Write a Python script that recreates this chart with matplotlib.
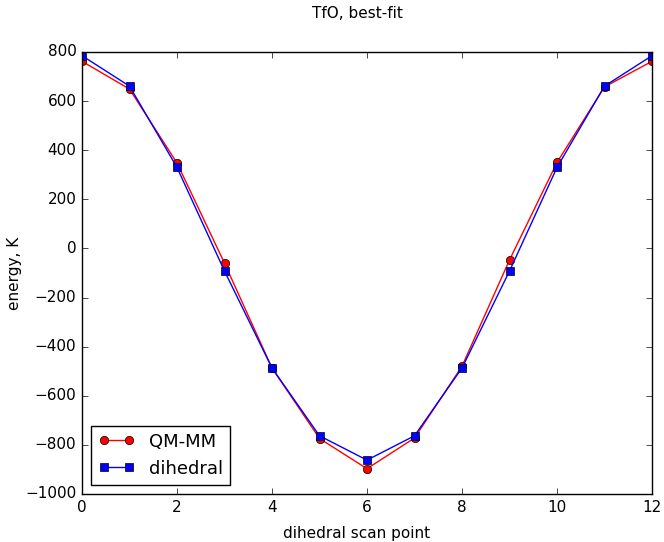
import numpy as np
import matplotlib
matplotlib.use("Agg")
import matplotlib.pyplot as plt

plt.style.use('classic')

scan = list(range(13))
qm_mm = [762, 649, 348, -60, -487, -774, -897, -772, -480, -47, 350, 658, 762]
dihedral = [785, 661, 330, -92, -487, -763, -862, -763, -487, -92, 330, 661, 785]

W, H = 664, 542
fig = plt.figure(figsize=(W/100, H/100), dpi=100, facecolor='white')
ax = fig.add_axes([82/W, 1 - 494/H, (652-82)/W, (494-52)/H])
ax.plot(scan, qm_mm, 'r-o', label='QM-MM')
ax.plot(scan, dihedral, 'b-s', label='dihedral')
ax.set_xlim(0, 12)
ax.set_ylim(-1000, 800)
ax.tick_params(labelsize=11)
ax.set_xlabel('dihedral scan point', fontsize=11)
ax.set_ylabel('energy, K', fontsize=11)
ax.xaxis.set_label_coords((357-82)/570, (494-526)/442)
ax.yaxis.set_label_coords((22-82)/570, 0.5)
fig.text(357/W, 1 - 14/H, 'TfO, best-fit', fontsize=11, ha='center', va='center')
ax.legend(loc='lower left', fontsize=13)
fig.savefig('out.png', dpi=100, facecolor='white')
